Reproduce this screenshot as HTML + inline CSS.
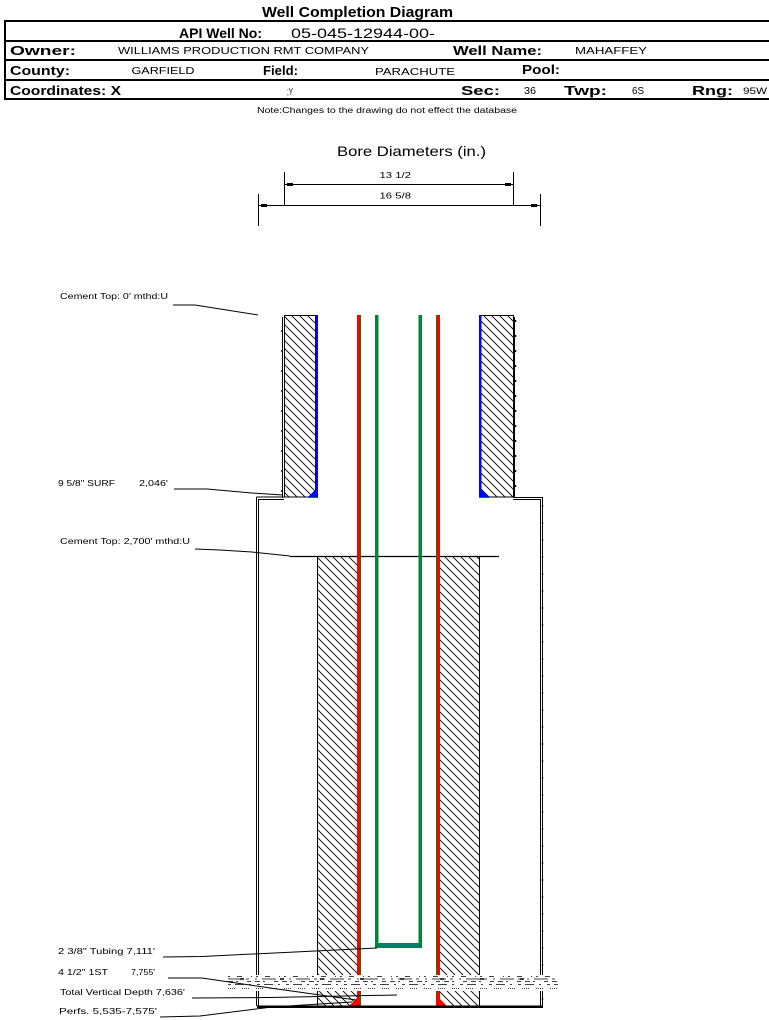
<!DOCTYPE html>
<html><head><meta charset="utf-8"><style>
html,body{margin:0;padding:0;background:#fff;width:769px;height:1020px;overflow:hidden}
svg{display:block}
text{font-family:"Liberation Sans",Arial,sans-serif;fill:#000}
.b{font-weight:bold}
</style></head><body>
<svg width="769" height="1020" viewBox="0 0 769 1020" xmlns="http://www.w3.org/2000/svg">
<defs>
<pattern id="h" patternUnits="userSpaceOnUse" width="8" height="8">
<path d="M-1,-1 L9,9 M-1,7 L1,9 M7,-1 L9,1" stroke="#000" stroke-width="0.9" fill="none"/>
</pattern>
</defs>
<rect width="769" height="1020" fill="#fff"/>

<!-- Title -->
<text class="b" x="262" y="17" font-size="15" textLength="191" lengthAdjust="spacingAndGlyphs">Well Completion Diagram</text>

<!-- Table lines -->
<g fill="#000">
<rect x="4" y="20" width="765" height="2"/>
<rect x="4" y="40" width="765" height="2"/>
<rect x="4" y="59" width="765" height="2"/>
<rect x="4" y="79" width="765" height="2"/>
<rect x="4" y="98" width="765" height="2"/>
<rect x="4" y="20" width="2" height="80"/>
</g>

<text class="b" x="179" y="38" font-size="14" textLength="83" lengthAdjust="spacingAndGlyphs">API Well No:</text>
<text x="291" y="38" font-size="14" textLength="144" lengthAdjust="spacingAndGlyphs">05-045-12944-00-</text>

<text class="b" x="10" y="55" font-size="13" textLength="66" lengthAdjust="spacingAndGlyphs">Owner:</text>
<text x="118" y="54" font-size="10.5" textLength="251" lengthAdjust="spacingAndGlyphs">WILLIAMS PRODUCTION RMT COMPANY</text>
<text class="b" x="453" y="55" font-size="13" textLength="89" lengthAdjust="spacingAndGlyphs">Well Name:</text>
<text x="575" y="54" font-size="10.5" textLength="72" lengthAdjust="spacingAndGlyphs">MAHAFFEY</text>

<text class="b" x="10" y="75" font-size="13" textLength="60" lengthAdjust="spacingAndGlyphs">County:</text>
<text x="131.5" y="74" font-size="10.5" textLength="63" lengthAdjust="spacingAndGlyphs">GARFIELD</text>
<text class="b" x="263" y="75" font-size="13" textLength="35" lengthAdjust="spacingAndGlyphs">Field:</text>
<text x="375" y="75" font-size="10.5" textLength="80" lengthAdjust="spacingAndGlyphs">PARACHUTE</text>
<text class="b" x="522" y="74" font-size="13" textLength="38" lengthAdjust="spacingAndGlyphs">Pool:</text>

<text class="b" x="10" y="95" font-size="13" textLength="111" lengthAdjust="spacingAndGlyphs">Coordinates: X</text>
<text x="287" y="95" font-size="10" textLength="6" lengthAdjust="spacingAndGlyphs">;Y</text>
<text class="b" x="461" y="95" font-size="13" textLength="39" lengthAdjust="spacingAndGlyphs">Sec:</text>
<text x="524" y="94" font-size="10.5" textLength="12" lengthAdjust="spacingAndGlyphs">36</text>
<text class="b" x="564" y="95" font-size="13" textLength="43" lengthAdjust="spacingAndGlyphs">Twp:</text>
<text x="632" y="94" font-size="10.5" textLength="12" lengthAdjust="spacingAndGlyphs">6S</text>
<text class="b" x="692" y="95" font-size="13" textLength="41" lengthAdjust="spacingAndGlyphs">Rng:</text>
<text x="743" y="94" font-size="9.5" textLength="24" lengthAdjust="spacingAndGlyphs">95W</text>

<text x="257" y="113" font-size="8" textLength="260" lengthAdjust="spacingAndGlyphs">Note:Changes to the drawing do not effect the database</text>

<!-- Bore diameters -->
<text x="337" y="156" font-size="14" textLength="149" lengthAdjust="spacingAndGlyphs">Bore Diameters (in.)</text>
<g stroke="#000" stroke-width="1" shape-rendering="crispEdges" fill="none">
<line x1="284.5" y1="172" x2="284.5" y2="206"/>
<line x1="513.5" y1="172" x2="513.5" y2="206"/>
<line x1="284" y1="184.5" x2="514" y2="184.5"/>
<line x1="258.5" y1="194" x2="258.5" y2="226"/>
<line x1="540.5" y1="194" x2="540.5" y2="226"/>
<line x1="258" y1="205.5" x2="541" y2="205.5"/>
</g>
<g fill="#000">
<rect x="287" y="183" width="6" height="3"/>
<rect x="505" y="183" width="6" height="3"/>
<rect x="261" y="204" width="6" height="3"/>
<rect x="531" y="204" width="6" height="3"/>
</g>
<text x="379.5" y="178" font-size="8.5" textLength="31.5" lengthAdjust="spacingAndGlyphs">13 1/2</text>
<text x="379.5" y="198.5" font-size="8.5" textLength="31.5" lengthAdjust="spacingAndGlyphs">16 5/8</text>

<!-- Upper section hatched blocks -->
<rect x="284.5" y="315.5" width="31" height="181.5" fill="url(#h)" stroke="#000" stroke-width="1"/>
<rect x="481" y="315.5" width="32.5" height="181.5" fill="url(#h)" stroke="#000" stroke-width="1"/>
<rect x="315.5" y="315" width="2.5" height="182" fill="#0000ff"/>
<rect x="479" y="315" width="2.5" height="182" fill="#0000ff"/>
<polygon points="308,497 318,497 318,487" fill="#0000ff"/>
<polygon points="479,487 479,497 489,497" fill="#0000ff"/>
<line x1="308" y1="497.5" x2="318" y2="497.5" stroke="#008000" stroke-width="1"/>
<line x1="479" y1="497.5" x2="489" y2="497.5" stroke="#008000" stroke-width="1"/>

<!-- Hole walls -->
<g stroke="#000" stroke-width="1" shape-rendering="crispEdges" fill="none">
<line x1="282.5" y1="317" x2="282.5" y2="498"/>
<line x1="514.5" y1="317" x2="514.5" y2="498"/>
<line x1="256.5" y1="497" x2="284" y2="497"/>
<line x1="258.5" y1="499.5" x2="284" y2="499.5"/>
<line x1="513" y1="497.5" x2="542" y2="497.5"/>
<line x1="513" y1="499.5" x2="540" y2="499.5"/>
<line x1="256.5" y1="497" x2="256.5" y2="1006"/>
<line x1="258.5" y1="499" x2="258.5" y2="1006"/>
<line x1="540.5" y1="499" x2="540.5" y2="1006"/>
<line x1="542.5" y1="497" x2="542.5" y2="1006"/>
</g>
<g stroke="#000" stroke-width="1.5" fill="none">
<line x1="515.5" y1="320" x2="515.5" y2="497" stroke-dasharray="2 13"/>
<line x1="542.5" y1="505" x2="542.5" y2="1005" stroke-dasharray="2 15"/>
<line x1="282" y1="330" x2="282" y2="497" stroke-dasharray="2 18"/>
</g>

<!-- Lower hatched blocks -->
<rect x="317.5" y="556.5" width="40" height="450" fill="url(#h)" stroke="#000" stroke-width="1"/>
<rect x="439.5" y="556.5" width="40" height="450" fill="url(#h)" stroke="#000" stroke-width="1"/>
<line x1="290" y1="556.5" x2="499" y2="556.5" stroke="#000" stroke-width="1.2"/>

<!-- Casing 4 1/2 red -->
<rect x="357" y="315" width="3" height="691" fill="#ff0000"/>
<rect x="360" y="315" width="1" height="691" fill="#008000"/>
<rect x="437" y="315" width="3" height="691" fill="#ff0000"/>
<rect x="436" y="315" width="1" height="691" fill="#008000"/>

<!-- Tubing green -->
<rect x="375" y="315" width="3.5" height="633" fill="#00853a"/>
<rect x="418.5" y="315" width="3.5" height="633" fill="#00853a"/>
<rect x="375" y="943" width="47" height="5" fill="#00853a"/>
<rect x="378.5" y="944" width="40" height="3" fill="#008070"/>

<!-- Bottom red fillets -->
<polygon points="349,1006 360,1006 360,995" fill="#ff0000"/>
<polygon points="436,995 436,1006 447,1006" fill="#ff0000"/>

<!-- Break band -->
<rect x="228" y="975" width="330" height="16" fill="#fff"/>
<g stroke="#000" stroke-width="0.8" fill="none">
<line x1="228" y1="976.5" x2="558" y2="976.5" stroke-dasharray="2 7 5 9 1 4"/>
<line x1="228" y1="979" x2="558" y2="979" stroke-dasharray="14 4 3 6 2 5"/>
<line x1="228" y1="981.5" x2="558" y2="981.5" stroke-dasharray="5 3 2 9 4 4"/>
<line x1="228" y1="984.5" x2="558" y2="984.5" stroke-dasharray="3 4 9 5 2 6"/>
<line x1="228" y1="988.5" x2="558" y2="988.5" stroke-dasharray="1 1 1 1 1 1 1 7"/>
</g>
<g stroke="#000" stroke-width="1.5" fill="none">
<line x1="240" y1="979" x2="556" y2="979" stroke-dasharray="4 36"/>
</g>

<!-- Bottom line -->
<rect x="257" y="1005.5" width="286" height="2.5" fill="#000"/>

<!-- Labels and leaders -->
<g font-size="8.5">
<text x="60" y="299" textLength="108" lengthAdjust="spacingAndGlyphs">Cement Top: 0' mthd:U</text>
<text x="58" y="486" textLength="57" lengthAdjust="spacingAndGlyphs">9 5/8" SURF</text>
<text x="139" y="486" textLength="29" lengthAdjust="spacingAndGlyphs">2,046'</text>
<text x="60" y="544" textLength="130" lengthAdjust="spacingAndGlyphs">Cement Top: 2,700' mthd:U</text>
<text x="58" y="954" textLength="97" lengthAdjust="spacingAndGlyphs">2 3/8" Tubing 7,111'</text>
<text x="58" y="975" textLength="50" lengthAdjust="spacingAndGlyphs">4 1/2" 1ST</text>
<text x="131" y="975" textLength="24" lengthAdjust="spacingAndGlyphs">7,755'</text>
<text x="60" y="995" textLength="125" lengthAdjust="spacingAndGlyphs">Total Vertical Depth 7,636'</text>
<text x="59" y="1014" textLength="98" lengthAdjust="spacingAndGlyphs">Perfs. 5,535-7,575'</text>
</g>
<g stroke="#000" stroke-width="1" fill="none">
<polyline points="173,305 195,305 258,315"/>
<polyline points="174,489 207,489 252,493 283,495"/>
<polyline points="195,549 220,550 252,552 290,556"/>
<polyline points="163,957 202,956.5 377,948"/>
<polyline points="168,978 202,978 270,988 356,1000"/>
<polyline points="192,998 270,997.5 397,995"/>
<polyline points="160,1017 200,1016 272,1007 352,1002"/>
</g>
</svg>
</body></html>
